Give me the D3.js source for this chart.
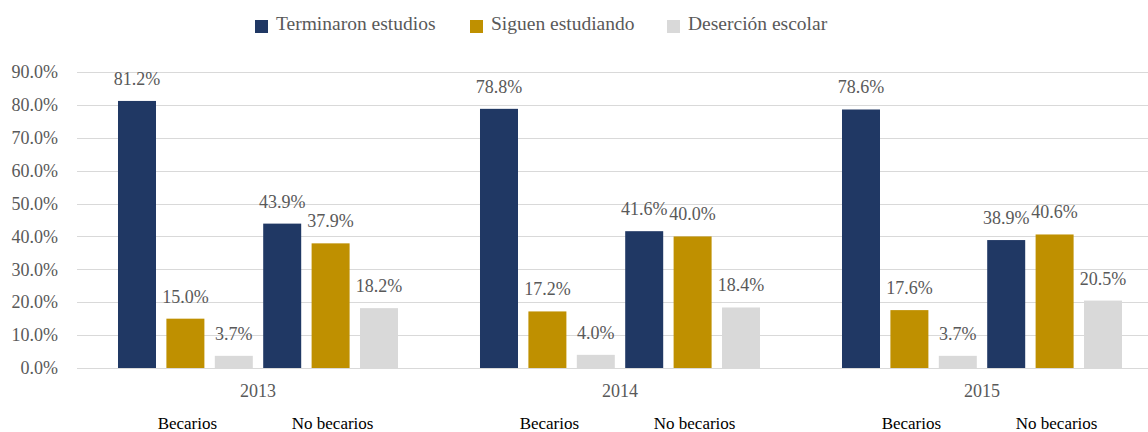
<!DOCTYPE html>
<html>
<head>
<meta charset="utf-8">
<script src="https://cdn.jsdelivr.net/npm/d3@7"></script>
<style>
  body { margin: 0; background: #fff; }
</style>
</head>
<body>
<div id="chart"></div>
<script>
// data
let years = ['2013', '2014', '2015'];
let groups = ['Becarios', 'No becarios'];
let seriesNames = ['Terminaron estudios', 'Siguen estudiando', 'Deserción escolar'];
let colors = ['#203864', '#bf9000', '#d9d9d9'];
let yTicks = [0, 10, 20, 30, 40, 50, 60, 70, 80, 90];

// values per year: [Becarios, No becarios]
let terminaron = [[81.2, 43.9], [78.8, 41.6], [78.6, 38.9]];
let siguen = [[15.0, 37.9], [17.2, 40.0], [17.6, 40.6]];
let desercion = [[3.7, 18.2], [4.0, 18.4], [3.7, 20.5]];

let seriesValues = [terminaron, siguen, desercion];

const FONT = "'Liberation Serif', 'Times New Roman', serif";

function makeGraph() {
    let w = 1148, h = 432;
    let svg = d3.select('#chart')
        .append('svg')
        .attr('width', w)
        .attr('height', h);

    let yScale = d3.scaleLinear()
        .domain([0, 90])
        .range([368, 72]);

    let xYear = d3.scaleBand()
        .domain(years)
        .range([77, 77 + 3 * 362]);

    // six bars per year: group x series
    let keys = [];
    groups.forEach((g, gi) => seriesNames.forEach((s, si) => keys.push(gi + '-' + si)));
    let xBar = d3.scaleBand()
        .domain(keys)
        .range([0, xYear.bandwidth()])
        .paddingInner(0.215)
        .paddingOuter(0.847);

    // gridlines
    svg.append('g')
        .selectAll('line')
        .data(yTicks)
        .enter()
        .append('line')
        .attr('x1', 77)
        .attr('x2', w)
        .attr('y1', d => Math.round(yScale(d)) + 0.5)
        .attr('y2', d => Math.round(yScale(d)) + 0.5)
        .style('stroke', '#d9d9d9')
        .attr('stroke-width', 1);

    let yAxis = d3.axisLeft(yScale)
        .tickValues(yTicks)
        .tickSize(0)
        .tickPadding(0)
        .tickFormat(d => d.toFixed(1) + '%');
    let yAxisGroup = svg.append('g')
        .attr('transform', 'translate(58, 0)')
        .call(yAxis);
    yAxisGroup.select('.domain').remove();
    yAxisGroup.attr('font-family', null).attr('font-size', null);
    yAxisGroup.selectAll('text')
        .style('font-size', '18px')
        .style('font-family', FONT)
        .style('fill', '#595959');

    // bars
    let barData = [];
    years.forEach((y, yi) => {
        groups.forEach((g, gi) => {
            seriesNames.forEach((s, si) => {
                barData.push({year: y, key: gi + '-' + si, series: si, value: seriesValues[si][yi][gi]});
            });
        });
    });

    let bars = svg.selectAll('.bar')
        .data(barData)
        .enter()
        .append('g');

    bars.append('rect')
        .attr('x', d => xYear(d.year) + xBar(d.key))
        .attr('y', d => yScale(d.value))
        .attr('width', xBar.bandwidth())
        .attr('height', d => yScale(0) - yScale(d.value))
        .style('fill', d => colors[d.series]);

    bars.append('text')
        .attr('x', d => xYear(d.year) + xBar(d.key) + xBar.bandwidth() / 2)
        .attr('y', d => yScale(d.value) - 16)
        .attr('text-anchor', 'middle')
        .style('font-family', FONT)
        .style('fill', '#595959')
        .style('font-size', '18px')
        .text(d => d.value.toFixed(1) + '%');

    // year labels
    svg.append('g')
        .selectAll('text')
        .data(years)
        .enter()
        .append('text')
        .attr('x', d => xYear(d) + xYear.bandwidth() / 2)
        .attr('y', 397)
        .attr('text-anchor', 'middle')
        .style('font-family', FONT)
        .style('fill', '#595959')
        .style('font-size', '18px')
        .text(d => d);

    // subgroup labels
    let subData = [];
    years.forEach(y => groups.forEach((g, gi) => subData.push({year: y, group: g, gi: gi})));
    svg.append('g')
        .selectAll('text')
        .data(subData)
        .enter()
        .append('text')
        .attr('x', d => {
            let a = xBar(d.gi + '-0');
            let b = xBar(d.gi + '-2') + xBar.bandwidth();
            return xYear(d.year) + (a + b) / 2 + 2;
        })
        .attr('y', 429)
        .attr('text-anchor', 'middle')
        .style('font-family', FONT)
        .style('font-size', '17px')
        .style('fill', '#000')
        .text(d => d.group);

    // legend
    let legendX = [255, 470, 667];
    let legend = svg.append('g')
        .selectAll('g')
        .data(seriesNames)
        .enter()
        .append('g')
        .attr('transform', (d, i) => `translate(${legendX[i]}, 0)`);
    legend.append('rect')
        .attr('x', 0)
        .attr('y', 20)
        .attr('width', 13)
        .attr('height', 13)
        .style('fill', (d, i) => colors[i]);
    legend.append('text')
        .attr('x', 21)
        .attr('y', 30)
        .style('font-family', FONT)
        .style('fill', '#595959')
        .style('font-size', '19.5px')
        .text(d => d);
}

window.onload = () => {
    makeGraph();
}
</script>
</body>
</html>
